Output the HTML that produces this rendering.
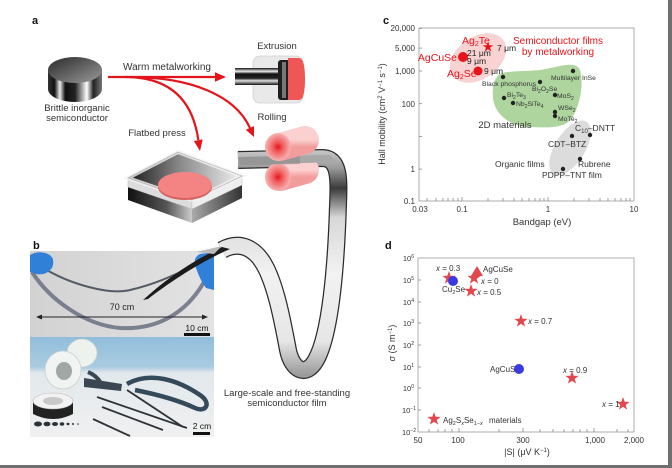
<!DOCTYPE html>
<html><head><meta charset="utf-8"><style>
html,body{margin:0;padding:0;background:#fff;}
body{width:672px;height:468px;overflow:hidden;}
svg{display:block;font-family:"Liberation Sans",Arial,sans-serif;}
</style></head><body>
<svg width="672" height="468" viewBox="0 0 672 468" xmlns="http://www.w3.org/2000/svg">
<defs>
<path id="star" d="M0,-1 L0.235,-0.324 L0.951,-0.309 L0.380,0.124 L0.588,0.809 L0,0.4 L-0.588,0.809 L-0.380,0.124 L-0.951,-0.309 L-0.235,-0.324 Z"/>
<linearGradient id="puckSide" x1="0" y1="0" x2="1" y2="0">
<stop offset="0" stop-color="#333"/><stop offset="0.12" stop-color="#111"/><stop offset="0.22" stop-color="#eee"/><stop offset="0.32" stop-color="#111"/><stop offset="0.5" stop-color="#222"/><stop offset="0.62" stop-color="#999"/><stop offset="0.72" stop-color="#fff"/><stop offset="0.84" stop-color="#222"/><stop offset="1" stop-color="#777"/>
</linearGradient>
<linearGradient id="puckTop" x1="0" y1="0" x2="1" y2="1">
<stop offset="0" stop-color="#2a2a2a"/><stop offset="1" stop-color="#9a9a9a"/>
</linearGradient>
<linearGradient id="plateTop" x1="0" y1="0" x2="1" y2="0">
<stop offset="0" stop-color="#1a1a1a"/><stop offset="0.45" stop-color="#888"/><stop offset="1" stop-color="#f2f2f2"/>
</linearGradient>
<linearGradient id="plateL" x1="0" y1="0" x2="1" y2="0">
<stop offset="0" stop-color="#111"/><stop offset="0.6" stop-color="#555"/><stop offset="1" stop-color="#ccc"/>
</linearGradient>
<linearGradient id="plateR" x1="0" y1="0" x2="1" y2="0">
<stop offset="0" stop-color="#aaa"/><stop offset="1" stop-color="#333"/>
</linearGradient>
<radialGradient id="glow" cx="0.5" cy="0.5" r="0.5">
<stop offset="0" stop-color="#e8141c"/><stop offset="0.35" stop-color="#f05a5a"/><stop offset="1" stop-color="#f7b4b4"/>
</radialGradient>
<linearGradient id="rollBody" x1="0" y1="0" x2="0" y2="1">
<stop offset="0" stop-color="#fbd0d0"/><stop offset="1" stop-color="#f29c9c"/>
</linearGradient>
<linearGradient id="rod" x1="0" y1="0" x2="0" y2="1">
<stop offset="0" stop-color="#111"/><stop offset="0.2" stop-color="#eee"/><stop offset="0.35" stop-color="#111"/><stop offset="0.6" stop-color="#222"/><stop offset="0.75" stop-color="#ddd"/><stop offset="1" stop-color="#111"/>
</linearGradient>
<linearGradient id="wire" x1="0" y1="0" x2="1" y2="0">
<stop offset="0" stop-color="#ee3333"/><stop offset="0.6" stop-color="#f0a0a0"/><stop offset="1" stop-color="#777"/>
</linearGradient>
<linearGradient id="ribbon" gradientUnits="userSpaceOnUse" x1="0" y1="150" x2="0" y2="375">
<stop offset="0" stop-color="#c8c8c8"/><stop offset="0.08" stop-color="#9a9a9a"/><stop offset="0.17" stop-color="#3a3a3a"/><stop offset="0.3" stop-color="#d8d8d8"/><stop offset="0.55" stop-color="#f2f2f2"/><stop offset="0.85" stop-color="#e6e6e6"/><stop offset="1" stop-color="#9a9a9a"/>
</linearGradient>
<linearGradient id="photoTop" x1="0" y1="0" x2="1" y2="0">
<stop offset="0" stop-color="#d2d2d2"/><stop offset="1" stop-color="#e3e3e3"/>
</linearGradient>
<linearGradient id="photoBot" x1="0" y1="0" x2="0" y2="1">
<stop offset="0" stop-color="#92bedb"/><stop offset="0.3" stop-color="#a9cbe0"/><stop offset="0.36" stop-color="#e2e8ec"/><stop offset="1" stop-color="#f0f0f0"/>
</linearGradient>
</defs>

<!-- page borders -->
<rect x="668" y="0" width="4" height="468" fill="#707070"/>
<rect x="0" y="465" width="672" height="3" fill="#707070"/>

<!-- ================= Panel a ================= -->
<text x="32" y="24" font-size="11" font-weight="bold" fill="#111">a</text>

<!-- puck -->
<rect x="48" y="70" width="54" height="19" fill="url(#puckSide)"/>
<ellipse cx="75" cy="89" rx="27" ry="13" fill="url(#puckSide)"/>
<ellipse cx="75" cy="70" rx="27" ry="13" fill="url(#puckTop)"/>
<text x="77" y="111" font-size="9.5" fill="#333" text-anchor="middle">Brittle inorganic</text>
<text x="77" y="121" font-size="9.5" fill="#333" text-anchor="middle">semiconductor</text>

<!-- arrows -->
<g stroke="#e3151b" stroke-width="2.2" fill="none">
<path d="M108,77 L217,77"/>
<path d="M125,77 C165,77 192,95 198.3,140"/>
<path d="M130,77 C190,77 235,95 250,128"/>
</g>
<g fill="#e3151b">
<polygon points="226,77 215,72.3 215,81.7"/>
<polygon points="200,151 193.9,141 202.7,139.4"/>
<polygon points="254,137 245.8,129.7 254,126.1"/>
</g>
<text x="167" y="70" font-size="10" fill="#333" text-anchor="middle">Warm metalworking</text>

<!-- extrusion -->
<text x="277" y="49" font-size="9.5" fill="#333" text-anchor="middle">Extrusion</text>
<rect x="253" y="56" width="50" height="47" rx="7" fill="#e9e9e9" stroke="#cfcfcf" stroke-width="0.8"/>
<line x1="300" y1="77" x2="352" y2="77" stroke="url(#wire)" stroke-width="2"/>
<rect x="235" y="68" width="46" height="17" fill="url(#rod)"/>
<rect x="278" y="60" width="12" height="40" rx="3" fill="#1e1e1e"/>
<rect x="282" y="62" width="4" height="36" fill="#777"/>
<path d="M288,58 L299,58 Q305,58 305,79 Q305,100 299,100 L288,100 Z" fill="#ef5656"/>

<!-- flatbed press -->
<text x="157" y="136" font-size="9.5" fill="#333" text-anchor="middle">Flatbed press</text>
<polygon points="128,187 192,209 192,223 128,200" fill="url(#plateL)"/>
<polygon points="192,209 242,185 242,198 192,223" fill="url(#plateR)"/>
<polygon points="128,178 192,200 192,209 128,187" fill="#dcdcdc" stroke="#bbb" stroke-width="0.5"/>
<polygon points="192,200 242,176 242,185 192,209" fill="#eeeeee" stroke="#bbb" stroke-width="0.5"/>
<polygon points="178,152 242,176 192,200 128,178" fill="url(#plateTop)"/>
<polygon points="178,152 242,176 192,200 128,178" fill="none" stroke="#f3f3f3" stroke-width="4" opacity="0.8"/>
<polygon points="178,152 242,176 192,200 128,178" fill="none" stroke="#aaa" stroke-width="0.6"/>
<ellipse cx="185" cy="187" rx="27" ry="13" fill="#d86060"/>
<ellipse cx="185" cy="185" rx="27" ry="13" fill="#f48484"/>

<!-- film ribbon -->
<path d="M238,160 L322,158 C340,158 339,180 338,205 C336,270 330,335 316,360 C306,378 292,370 288,350 C282,318 276,288 266,268 C256,248 240,240 222,250" fill="none" stroke="#2b2b2b" stroke-width="18"/>
<path d="M238,160 L322,158 C340,158 339,180 338,205 C336,270 330,335 316,360 C306,378 292,370 288,350 C282,318 276,288 266,268 C256,248 240,240 222,250" fill="none" stroke="url(#ribbon)" stroke-width="15.5"/>

<!-- rollers -->
<text x="272" y="120" font-size="9.5" fill="#333" text-anchor="middle">Rolling</text>
<line x1="280" y1="177" x2="305" y2="170" stroke="url(#rollBody)" stroke-width="28" stroke-linecap="round"/>
<ellipse cx="278" cy="177" rx="13" ry="14" fill="url(#glow)"/>
<path d="M238,157 L330,155 L336,162 L240,165 Z" fill="#a8a8a8"/>
<path d="M238,157 L300,156 L300,164 L240,165 Z" fill="#8a8a8a" opacity="0.6"/>
<line x1="280" y1="147" x2="305" y2="140" stroke="url(#rollBody)" stroke-width="28" stroke-linecap="round"/>
<ellipse cx="278" cy="147" rx="13" ry="14" fill="url(#glow)"/>

<!-- ================= Panel b ================= -->
<text x="33" y="249" font-size="11" font-weight="bold" fill="#111">b</text>
<rect x="30" y="251" width="184" height="86" fill="url(#photoTop)"/>
<path d="M40,266 C70,285 110,295 130,290 C160,283 180,272 198,264" fill="none" stroke="#555b66" stroke-width="2"/>
<path d="M32,272 C50,300 85,325 120,328 C155,330 185,315 204,282" fill="none" stroke="#6a7080" stroke-width="4" opacity="0.85"/>
<path d="M30,255 Q38,250 48,254 Q56,258 52,268 Q46,276 36,274 L30,272 Z" fill="#2f80d6"/>
<path d="M214,252 L200,254 Q192,258 196,268 Q200,280 206,288 L214,290 Z" fill="#2f80d6"/>
<path d="M143,300 C165,280 190,262 222,247 L230,249 C200,262 170,282 148,299 Z" fill="#1b1b1b"/>
<path d="M196,252 L222,246 L214,254 Z" fill="#bbbbbb"/>
<line x1="40" y1="317" x2="204" y2="317" stroke="#222" stroke-width="1"/>
<polygon points="36,317 42,314.5 42,319.5" fill="#222"/>
<polygon points="208,317 202,314.5 202,319.5" fill="#222"/>
<text x="122" y="310" font-size="9" fill="#222" text-anchor="middle">70 cm</text>
<text x="197" y="331" font-size="8.5" fill="#111" text-anchor="middle">10 cm</text>
<rect x="184" y="333" width="26" height="3" fill="#111"/>

<rect x="30" y="337" width="184" height="100" fill="url(#photoBot)"/>
<ellipse cx="82" cy="353" rx="15" ry="14" fill="#eef2ef" stroke="#c9d0cc" stroke-width="0.8"/>
<polygon points="67,356 80,367 75,382 58,372" fill="#dfe5e2"/>
<path d="M84,378 L122,384 L121,391 L84,387 Z" fill="#3a4652"/>
<path d="M88,372 C95,375 100,380 102,386" stroke="#3a4652" stroke-width="4" fill="none"/>
<ellipse cx="63" cy="370" rx="18" ry="19" fill="#f1f4f2" stroke="#c9d0cc" stroke-width="0.8"/>
<ellipse cx="64" cy="371" rx="8" ry="9" fill="#9fa8a6"/>
<path d="M33,401 L33,414 Q53,424 73,414 L73,401 Z" fill="#222"/>
<ellipse cx="53" cy="401" rx="20" ry="8" fill="#f2f2f2" stroke="#bbb" stroke-width="0.6"/>
<ellipse cx="53" cy="401" rx="10" ry="4" fill="#c8c8c8"/>
<g fill="#2d3238">
<ellipse cx="38" cy="424" rx="4" ry="2.5"/><ellipse cx="47" cy="424" rx="3.5" ry="2.3"/><ellipse cx="55" cy="424" rx="3" ry="2"/><ellipse cx="62" cy="424" rx="2.3" ry="1.7"/><ellipse cx="68" cy="424" rx="1.5" ry="1.2"/><ellipse cx="73" cy="424" rx="1" ry="1"/><ellipse cx="78" cy="424" rx="0.8" ry="0.8"/>
</g>
<g stroke="#2e3339" stroke-width="1.8">
<line x1="97" y1="397" x2="187" y2="428"/>
<line x1="102" y1="407" x2="163" y2="430"/>
<line x1="93" y1="419" x2="130" y2="436"/>
<line x1="127" y1="390" x2="183" y2="427"/>
</g>
<path d="M127,384 C150,371 178,380 200,395 C212,403 206,413 195,408 C178,400 155,394 135,390" fill="none" stroke="#34495a" stroke-width="4.5"/>
<text x="202" y="429" font-size="8.5" fill="#111" text-anchor="middle">2 cm</text>
<rect x="193" y="432" width="17" height="3" fill="#111"/>

<text x="287" y="396" font-size="9.5" fill="#333" text-anchor="middle">Large-scale and free-standing</text>
<text x="287" y="406" font-size="9.5" fill="#333" text-anchor="middle">semiconductor film</text>

<!-- ================= Panel c ================= -->
<text x="383" y="24" font-size="11" font-weight="bold" fill="#111">c</text>
<ellipse cx="478" cy="58" rx="31" ry="21" transform="rotate(-35 478 58)" fill="#f9d2d2"/>
<path d="M497,77 C500,70 520,72 540,70 C560,67 575,60 580,70 C584,85 580,105 572,118 C565,128 550,128 530,127 C505,126 494,110 493,98 C492,88 494,80 497,77 Z" fill="#aed59d"/>
<ellipse cx="570" cy="148" rx="31" ry="15" transform="rotate(-58 570 148)" fill="#dcdcdc"/>

<rect x="419" y="28" width="215" height="173" fill="none" stroke="#9a9a9a" stroke-width="0.8"/>
<g stroke="#888" stroke-width="0.8">
<line x1="419" y1="28.4" x2="422" y2="28.4"/><line x1="419" y1="48.1" x2="422" y2="48.1"/><line x1="419" y1="71" x2="422" y2="71"/><line x1="419" y1="103.7" x2="422" y2="103.7"/><line x1="419" y1="136.4" x2="422" y2="136.4"/><line x1="419" y1="169.1" x2="422" y2="169.1"/>
<line x1="427" y1="201" x2="427" y2="198"/><line x1="436" y1="201" x2="436" y2="198"/><line x1="443" y1="201" x2="443" y2="198"/><line x1="448" y1="201" x2="448" y2="198"/><line x1="453" y1="201" x2="453" y2="198"/><line x1="458" y1="201" x2="458" y2="198"/>
<line x1="462" y1="201" x2="462" y2="197"/>
<line x1="488" y1="201" x2="488" y2="198"/><line x1="503" y1="201" x2="503" y2="198"/><line x1="514" y1="201" x2="514" y2="198"/><line x1="522" y1="201" x2="522" y2="198"/><line x1="529" y1="201" x2="529" y2="198"/><line x1="535" y1="201" x2="535" y2="198"/><line x1="540" y1="201" x2="540" y2="198"/><line x1="544" y1="201" x2="544" y2="198"/>
<line x1="548" y1="201" x2="548" y2="197"/>
<line x1="574" y1="201" x2="574" y2="198"/><line x1="589" y1="201" x2="589" y2="198"/><line x1="600" y1="201" x2="600" y2="198"/><line x1="608" y1="201" x2="608" y2="198"/><line x1="615" y1="201" x2="615" y2="198"/><line x1="621" y1="201" x2="621" y2="198"/><line x1="626" y1="201" x2="626" y2="198"/><line x1="630" y1="201" x2="630" y2="198"/>
</g>
<g font-size="8" fill="#333" text-anchor="end">
<text x="415" y="31">20,000</text><text x="415" y="51">5,000</text><text x="415" y="74">1,000</text><text x="415" y="107">100</text><text x="415" y="172">1</text><text x="415" y="204">0.1</text>
</g>
<g font-size="8" fill="#333" text-anchor="middle">
<text x="420" y="212">0.03</text><text x="462" y="212">0.1</text><text x="548" y="212">1</text><text x="634" y="212">10</text>
</g>
<text x="542" y="225" font-size="9.5" fill="#333" text-anchor="middle">Bandgap (eV)</text>
<text transform="translate(385 114) rotate(-90)" font-size="9" fill="#333" text-anchor="middle">Hall mobility (cm<tspan font-size="6" dy="-3">2</tspan><tspan dy="3"> V</tspan><tspan font-size="6" dy="-3">−1</tspan><tspan dy="3"> s</tspan><tspan font-size="6" dy="-3">−1</tspan><tspan dy="3">)</tspan></text>

<use href="#star" transform="translate(488 47) scale(5.5)" fill="#e8141c"/>
<circle cx="463" cy="57" r="5" fill="#e8141c"/>
<circle cx="478" cy="71" r="4.5" fill="#e8141c"/>
<g fill="#e8141c" font-size="10.5">
<text x="462" y="44">Ag<tspan font-size="7" dy="2">2</tspan><tspan dy="-2">Te</tspan></text>
<text x="457" y="61" text-anchor="end">AgCuSe</text>
<text x="447" y="77">Ag<tspan font-size="7" dy="2">2</tspan><tspan dy="-2">Se</tspan></text>
</g>
<g fill="#e8141c" font-size="10" text-anchor="middle">
<text x="558" y="44">Semiconductor films</text>
<text x="558" y="55">by metalworking</text>
</g>
<g fill="#222" font-size="8.5">
<text x="497" y="51">7 μm</text>
<text x="467" y="56">21 μm</text>
<text x="467" y="64">9 μm</text>
<text x="484" y="74">9 μm</text>
</g>
<g fill="#222">
<circle cx="503" cy="77" r="2.2"/><circle cx="573" cy="71" r="2.2"/><circle cx="540" cy="82" r="2.2"/><circle cx="504" cy="98" r="2.2"/><circle cx="555" cy="95" r="2.2"/><circle cx="513" cy="103" r="2.2"/><circle cx="555" cy="112" r="2.2"/><circle cx="555" cy="116" r="2.2"/><circle cx="590" cy="135" r="2.2"/><circle cx="572" cy="136" r="2.2"/><circle cx="580" cy="159" r="2.2"/><circle cx="563" cy="169" r="2.2"/>
</g>
<g fill="#333" font-size="6.8">
<text x="482" y="86">Black phosphorus</text>
<text x="551" y="80">Multilayer InSe</text>
<text x="532" y="91">Bi<tspan font-size="5" dy="2">2</tspan><tspan dy="-2">O</tspan><tspan font-size="5" dy="2">2</tspan><tspan dy="-2">Se</tspan></text>
<text x="507" y="97">Bi<tspan font-size="5" dy="2">2</tspan><tspan dy="-2">Te</tspan><tspan font-size="5" dy="2">3</tspan></text>
<text x="557" y="98">MoS<tspan font-size="5" dy="2">2</tspan></text>
<text x="516" y="106">Nb<tspan font-size="5" dy="2">2</tspan><tspan dy="-2">SiTe</tspan><tspan font-size="5" dy="2">4</tspan></text>
<text x="558" y="110">WSe<tspan font-size="5" dy="2">2</tspan></text>
<text x="558" y="121">MoTe<tspan font-size="5" dy="2">2</tspan></text>
</g>
<text x="505" y="128" font-size="9.5" fill="#333" text-anchor="middle">2D materials</text>
<g fill="#333" font-size="8.5">
<text x="575" y="131">C<tspan font-size="6" dy="2">10</tspan><tspan dy="-2">–DNTT</tspan></text>
<text x="548" y="147">CDT–BTZ</text>
<text x="578" y="167">Rubrene</text>
<text x="495" y="167">Organic films</text>
<text x="542" y="178">PDPP–TNT film</text>
</g>

<!-- ================= Panel d ================= -->
<text x="385" y="249" font-size="11" font-weight="bold" fill="#111">d</text>
<rect x="418" y="258" width="216" height="174" fill="none" stroke="#9a9a9a" stroke-width="0.8"/>
<g stroke="#888" stroke-width="0.8">
<line x1="418" y1="280" x2="421" y2="280"/><line x1="418" y1="302" x2="421" y2="302"/><line x1="418" y1="323" x2="421" y2="323"/><line x1="418" y1="345" x2="421" y2="345"/><line x1="418" y1="367" x2="421" y2="367"/><line x1="418" y1="388" x2="421" y2="388"/><line x1="418" y1="410" x2="421" y2="410"/>
<line x1="429" y1="432" x2="429" y2="429"/><line x1="438" y1="432" x2="438" y2="429"/><line x1="445" y1="432" x2="445" y2="429"/><line x1="452" y1="432" x2="452" y2="429"/>
<line x1="459" y1="432" x2="459" y2="428"/>
<line x1="499" y1="432" x2="499" y2="429"/><line x1="540" y1="432" x2="540" y2="429"/><line x1="553" y1="432" x2="553" y2="429"/><line x1="564" y1="432" x2="564" y2="429"/><line x1="573" y1="432" x2="573" y2="429"/><line x1="580" y1="432" x2="580" y2="429"/><line x1="587" y1="432" x2="587" y2="429"/>
<line x1="523" y1="432" x2="523" y2="428"/><line x1="594" y1="432" x2="594" y2="428"/>
<line x1="617" y1="432" x2="617" y2="429"/><line x1="628" y1="432" x2="628" y2="429"/>
</g>
<g font-size="7.5" fill="#333" text-anchor="end">
<text x="414" y="261">10<tspan font-size="5" dy="-3">6</tspan></text>
<text x="414" y="283">10<tspan font-size="5" dy="-3">5</tspan></text>
<text x="414" y="305">10<tspan font-size="5" dy="-3">4</tspan></text>
<text x="414" y="326">10<tspan font-size="5" dy="-3">3</tspan></text>
<text x="414" y="348">10<tspan font-size="5" dy="-3">2</tspan></text>
<text x="414" y="370">10<tspan font-size="5" dy="-3">1</tspan></text>
<text x="414" y="391">10<tspan font-size="5" dy="-3">0</tspan></text>
<text x="416" y="413">10<tspan font-size="5" dy="-3">−1</tspan></text>
<text x="416" y="435">10<tspan font-size="5" dy="-3">−2</tspan></text>
</g>
<g font-size="8" fill="#333" text-anchor="middle">
<text x="418" y="443">50</text><text x="458" y="443">100</text><text x="523" y="443">300</text><text x="595" y="443">1,000</text><text x="634" y="443">2,000</text>
</g>
<text x="527" y="455" font-size="9" fill="#333" text-anchor="middle">|S| (μV K<tspan font-size="6" dy="-3">−1</tspan><tspan dy="3">)</tspan></text>
<text transform="translate(395 343) rotate(-90)" font-size="9" fill="#333" text-anchor="middle"><tspan font-style="italic">σ</tspan> (S m<tspan font-size="6" dy="-3">−1</tspan><tspan dy="3">)</tspan></text>

<g fill="#e2474d">
<use href="#star" transform="translate(449 278) scale(7)"/>
<polygon points="477,266 483,276 471,276"/>
<use href="#star" transform="translate(474 278) scale(7)"/>
<use href="#star" transform="translate(471 291) scale(7)"/>
<use href="#star" transform="translate(521 321) scale(7)"/>
<use href="#star" transform="translate(572 378) scale(7)"/>
<use href="#star" transform="translate(623 404) scale(7)"/>
<use href="#star" transform="translate(434 419) scale(7)"/>
</g>
<circle cx="453" cy="281" r="5" fill="#3a3ae0"/>
<circle cx="519" cy="369" r="5" fill="#3a3ae0"/>
<g font-size="8" fill="#333">
<text x="436" y="271"><tspan font-style="italic">x</tspan> = 0.3</text>
<text x="483" y="272">AgCuSe</text>
<text x="481" y="284"><tspan font-style="italic">x</tspan> = 0</text>
<text x="442" y="292">Cu<tspan font-size="5.5" dy="2">2</tspan><tspan dy="-2">Se</tspan></text>
<text x="477" y="295"><tspan font-style="italic">x</tspan> = 0.5</text>
<text x="528" y="324"><tspan font-style="italic">x</tspan> = 0.7</text>
<text x="490" y="372">AgCuS</text>
<text x="563" y="373"><tspan font-style="italic">x</tspan> = 0.9</text>
<text x="602" y="407"><tspan font-style="italic">x</tspan> = 1</text>
<text x="443" y="423">Ag<tspan font-size="5.5" dy="2">2</tspan><tspan dy="-2">S</tspan><tspan font-size="5.5" dy="2" font-style="italic">x</tspan><tspan dy="-2">Se</tspan><tspan font-size="5.5" dy="2">1−</tspan><tspan font-size="5.5" font-style="italic">x</tspan></text>
<text x="489" y="423">materials</text>
</g>
</svg>
</body></html>
